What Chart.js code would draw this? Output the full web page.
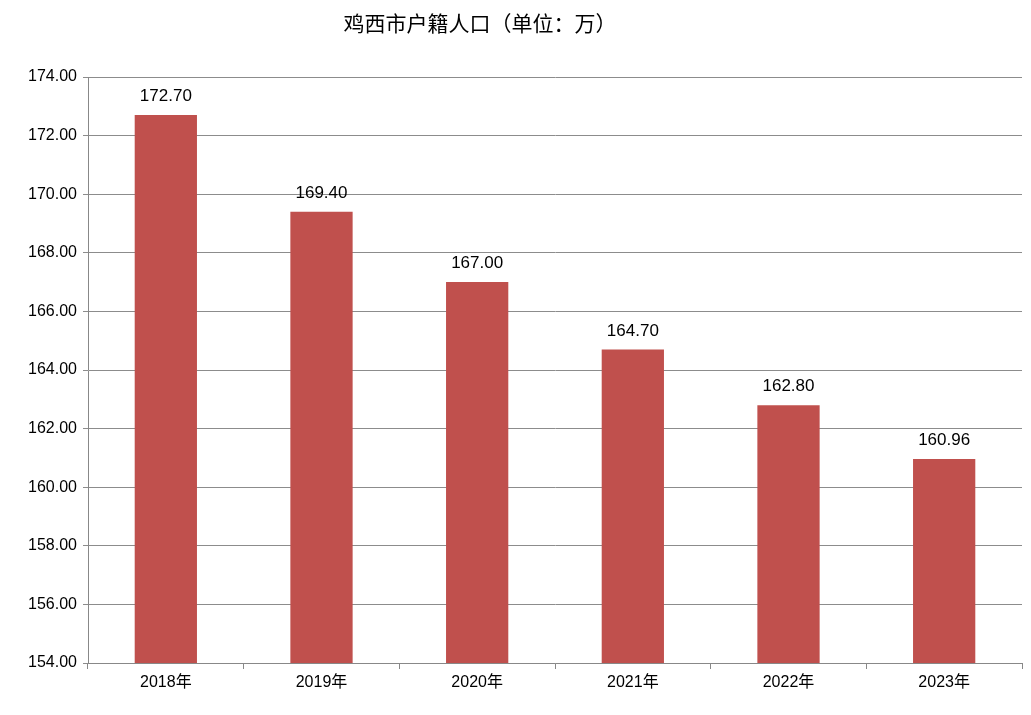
<!DOCTYPE html>
<html><head><meta charset="utf-8">
<script src="https://cdn.jsdelivr.net/npm/chart.js@4"></script>
<style>html,body{margin:0;padding:0;background:#fff}#w{width:1031px;height:715px}</style>
</head><body><div id="w"><canvas id="c"></canvas></div>
<script>
const categories = ['2018年','2019年','2020年','2021年','2022年','2023年'];
const population = [172.70,169.40,167.00,164.70,162.80,160.96];
const titleText = '鸡西市户籍人口（单位：万）';
const FONT = '"Liberation Sans","Noto Sans CJK SC",sans-serif';

const labelsPlugin = {
  id:'lbl',
  afterDatasetsDraw(chart){
    const ctx = chart.ctx;
    ctx.save();
    ctx.fillStyle = '#000';
    ctx.font = '17px ' + FONT;
    ctx.textAlign = 'center';
    ctx.textBaseline = 'bottom';
    chart.getDatasetMeta(0).data.forEach((b,i)=>{
      ctx.fillText(population[i].toFixed(2), b.x, b.y - 10);
    });
    ctx.font = '21px "Noto Sans CJK SC",' + FONT;
    ctx.textBaseline = 'middle';
    ctx.fillText(titleText, 480, 23);
    ctx.restore();
  }
};

new Chart(document.getElementById('c'), {
  type:'bar',
  data:{labels:categories, datasets:[{data:population, backgroundColor:'#c0504d', barPercentage:0.4, categoryPercentage:1}]},
  options:{
    responsive:true, maintainAspectRatio:false, animation:false,
    layout:{padding:{top:77, right:9, left:0, bottom:0}},
    plugins:{legend:{display:false}, tooltip:{enabled:false}},
    scales:{
      x:{
        grid:{display:true, drawOnChartArea:false, offset:true, tickLength:6, color:'#888'},
        border:{color:'#888'},
        ticks:{color:'#000', font:{size:16, family:FONT}, padding:4},
        afterFit(s){ s.height = 52; }
      },
      y:{
        min:154, max:174,
        ticks:{stepSize:2, color:'#000', font:{size:16, family:FONT}, padding:6, callback:v=>v.toFixed(2)},
        grid:{color:'#8c8c8c', tickLength:5},
        border:{color:'#888'},
        afterFit(s){ s.width = 88; }
      }
    }
  },
  plugins:[labelsPlugin]
});
</script></body></html>
